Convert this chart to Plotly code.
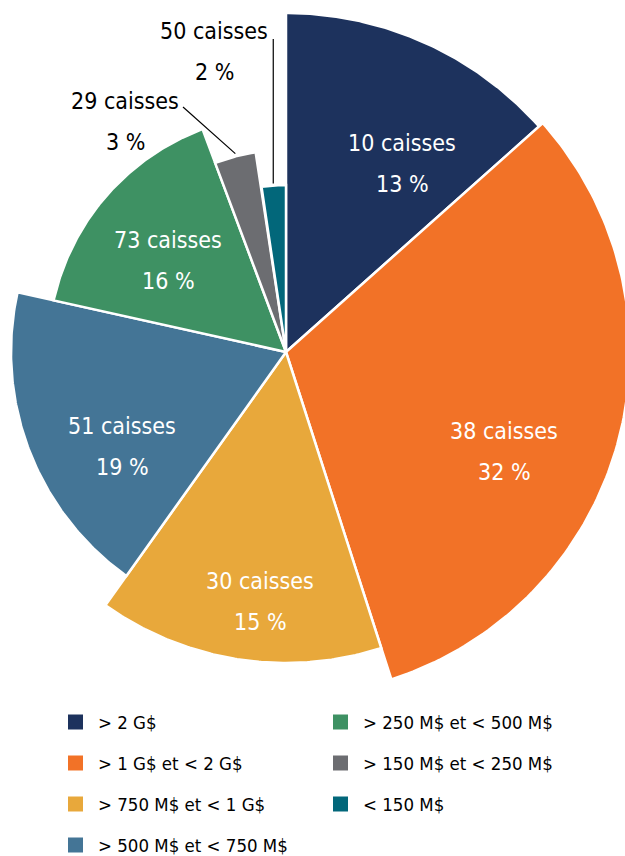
import numpy as np
import plotly.graph_objects as go

# ---------------- data ----------------
categories = ["> 2 G$", "> 1 G$ et < 2 G$", "> 750 M$ et < 1 G$",
              "> 500 M$ et < 750 M$", "> 250 M$ et < 500 M$",
              "> 150 M$ et < 250 M$", "< 150 M$"]
caisses = [10, 38, 30, 51, 73, 29, 50]                    # nombre de caisses
parts = [13.4, 31.6, 14.8, 18.6, 15.8, 3.3, 2.4]          # % de l'actif
rayons = [339, 344, 311, 275, 238, 202, 167]              # rayon relatif de chaque part

# ---------------- style ----------------
colors = ["#1D325D", "#F27227", "#E8A83B", "#447596", "#3E9163", "#6C6D71", "#02677A"]
W, H = 625, 856
CX, CY = 286, 352                     # centre of the pie (pixels)
FONT = "DejaVu Sans Condensed, Liberation Sans Narrow, Arial Narrow, sans-serif"
# label block centre offsets from pie centre (px, y up)
label_off = [(116, 189), (218, -99), (-26, -249), (-164, -94), (-118, 92), (-161, 231), (-72, 301)]
label_color = ["white"] * 5 + ["black"] * 2
LINE_GAP = 20.5

fig = go.Figure()

total = sum(parts)
bounds = np.concatenate([[0], np.cumsum(parts)]) / total * 360.0

for i, cat in enumerate(categories):
    a0, a1 = np.radians(bounds[i]), np.radians(bounds[i + 1])
    t = np.linspace(a0, a1, 120)
    r = rayons[i]
    xs = np.concatenate([[0], r * np.sin(t), [0]])
    ys = np.concatenate([[0], r * np.cos(t), [0]])
    fig.add_trace(go.Scatter(
        x=xs, y=ys, mode="lines", fill="toself", fillcolor=colors[i],
        line=dict(color="white", width=2.5), name=cat, showlegend=False,
        hoverinfo="text", text=f"{cat}: {caisses[i]} caisses, {round(parts[i])} %",
    ))

# labels
for i in range(len(categories)):
    dx, dy = label_off[i]
    for txt, sh in ((f"{caisses[i]} caisses", LINE_GAP), (f"{round(parts[i])} %", -LINE_GAP)):
        fig.add_annotation(x=dx, y=dy, xref="x", yref="y", text=txt, showarrow=False,
                           yshift=sh, xanchor="center", yanchor="middle",
                           font=dict(family=FONT, size=23, color=label_color[i]))

# leader lines for small slices
mid_gray = np.radians((bounds[5] + bounds[6]) / 2)
r0 = rayons[5] + 3
fig.add_shape(type="line", xref="x", yref="y",
              x0=r0 * np.sin(mid_gray) + 1, y0=r0 * np.cos(mid_gray),
              x1=-103, y1=245, line=dict(color="black", width=1.2))
mid_teal = np.radians((bounds[6] + bounds[7]) / 2)
r0 = rayons[6] + 2
xt = r0 * np.sin(mid_teal)
fig.add_shape(type="line", xref="x", yref="y",
              x0=xt, y0=r0 * np.cos(mid_teal), x1=xt, y1=313,
              line=dict(color="black", width=1.2))

# legend (two columns, column-major)
col_marker_x = [68, 333]
col_text_x = [96, 361]
row_y0, row_pitch, sq = 722, 41, 15
for i, cat in enumerate(categories):
    col, row = (0, i) if i < 4 else (1, i - 4)
    yc = row_y0 + row * row_pitch
    xm = col_marker_x[col]
    fig.add_shape(type="rect", xref="paper", yref="paper",
                  x0=xm / W, x1=(xm + sq) / W,
                  y0=1 - (yc + sq / 2) / H, y1=1 - (yc - sq / 2) / H,
                  fillcolor=colors[i], line=dict(width=0))
    fig.add_annotation(x=col_text_x[col] / W, y=1 - yc / H, xref="paper", yref="paper",
                       text=cat, showarrow=False, xanchor="left", yanchor="middle",
                       font=dict(family=FONT, size=18.5, color="black"))

fig.update_xaxes(range=[-CX, W - CX], visible=False, fixedrange=True)
fig.update_yaxes(range=[-(H - CY), CY], visible=False, fixedrange=True)
fig.update_layout(width=W, height=H, margin=dict(l=0, r=0, t=0, b=0),
                  paper_bgcolor="white", plot_bgcolor="white", showlegend=False)

fig.write_html("out.html", config={"displayModeBar": False},
               post_script="document.body.style.margin='0px';document.body.style.overflow='hidden';")
